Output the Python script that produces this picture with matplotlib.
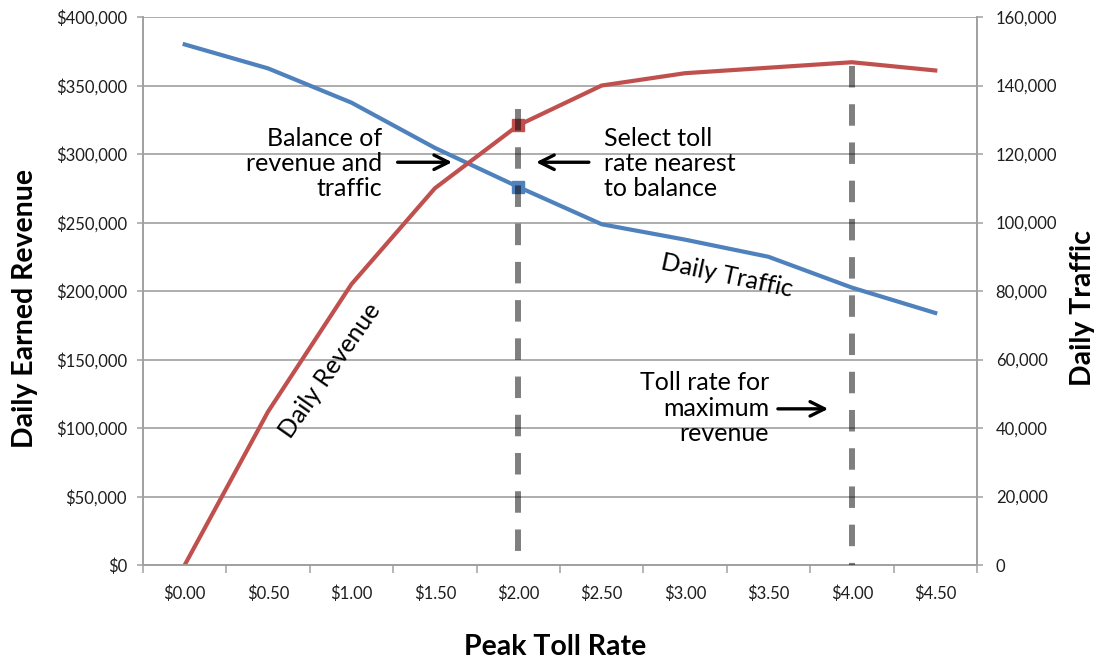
import numpy as np
import matplotlib.pyplot as plt
from matplotlib.ticker import FuncFormatter, MultipleLocator

plt.rcParams['font.family'] = ['Lato', 'DejaVu Sans']

# --- Data ---
toll_labels = ['$0.00', '$0.50', '$1.00', '$1.50', '$2.00',
               '$2.50', '$3.00', '$3.50', '$4.00', '$4.50']
revenue = [0, 112000, 205000, 275000, 321000, 350000, 359000, 363000, 367000, 361000]
traffic = [152000, 145000, 135000, 121800, 110400, 99500, 95000, 90000, 81000, 73600]

# reference lines: category index and top (revenue units)
ref_idx = [4, 8]
ref_top = [333000, 364000]
balance_idx = 4

RED = '#C0504D'
BLUE = '#4F81BD'
GRID = '#A0A0A0'
TXT = '#1E1E1E'

x = np.arange(len(toll_labels))

fig = plt.figure(figsize=(10.94, 6.6), dpi=100)
ax = fig.add_axes([0.1307, 0.1439, 0.7623, 0.8303])
ax2 = ax.twinx()
ax.set_zorder(ax2.get_zorder() + 1)
ax.patch.set_visible(False)

# traffic (right axis) + gridlines
ax2.plot(x, traffic, color=BLUE, lw=3, solid_joinstyle='round')
ax2.plot([x[balance_idx]], [traffic[balance_idx]], 's', color=BLUE, ms=8)
ax2.set_ylim(0, 160000)
ax2.yaxis.set_major_locator(MultipleLocator(20000))
ax2.yaxis.set_major_formatter(FuncFormatter(lambda v, p: f'{v:,.0f}'))
ax2.grid(axis='y', color=GRID, lw=1.2)
ax2.set_axisbelow(True)

# revenue (left axis)
ax.plot(x, revenue, color=RED, lw=3, solid_joinstyle='round')
ax.plot([x[balance_idx]], [revenue[balance_idx]], 's', color=RED, ms=8)
ax.set_ylim(0, 400000)
ax.set_xlim(-0.5, len(x) - 0.5)
ax.yaxis.set_major_locator(MultipleLocator(50000))
ax.yaxis.set_major_formatter(FuncFormatter(lambda v, p: f'${v:,.0f}'))

# dashed reference lines (drawn top-down so the pattern starts at the top)
for i, top in zip(ref_idx, ref_top):
    ax.plot([x[i], x[i]], [top, 0], color='black', alpha=0.5, lw=4.3,
            linestyle=(0, (3.6, 2.8)), solid_capstyle='butt', zorder=5)

# x ticks: labels at categories, marks at boundaries
ax.set_xticks(x)
ax.set_xticklabels(toll_labels)
ax.set_xticks(np.arange(-0.5, len(x), 1), minor=True)
ax.tick_params(axis='x', which='major', length=0, pad=15)
ax.tick_params(axis='x', which='minor', length=6, width=1.1, color=GRID)

for a in (ax, ax2):
    a.spines['top'].set_visible(False)
    for s in ('left', 'right', 'bottom'):
        a.spines[s].set_color(GRID)
        a.spines[s].set_linewidth(1.2)
    a.tick_params(axis='y', length=4.5, width=1.1, color=GRID, labelsize=12,
                  labelcolor=TXT, pad=7)
ax.tick_params(axis='x', labelsize=12, labelcolor=TXT)
ax2.tick_params(axis='y', pad=9)

# axis titles
fig.text(25 / 1094, 1 - 308 / 660, 'Daily Earned Revenue', rotation=90,
         ha='center', va='center', fontsize=20.5, fontweight='bold')
fig.text(555 / 1094, 1 - 647 / 660, 'Peak Toll Rate',
         ha='center', va='center', fontsize=20.5, fontweight='bold')
fig.text(1083 / 1094, 1 - 308 / 660, 'Daily Traffic', rotation=90,
         ha='center', va='center', fontsize=20.5, fontweight='bold')

# annotations
fs = 18
ax.text(2.366, 293000, 'Balance of\nrevenue and\ntraffic', ha='right', va='center',
        multialignment='right', fontsize=fs, linespacing=1.12, color='black')
ax.annotate('', xy=(3.24, 294000), xytext=(2.52, 294000),
            arrowprops=dict(arrowstyle='->', lw=2.4, color='black', mutation_scale=26))
ax.annotate('', xy=(4.18, 294000), xytext=(4.88, 294000),
            arrowprops=dict(arrowstyle='->', lw=2.4, color='black', mutation_scale=26))
ax.text(5.03, 293000, 'Select toll\nrate nearest\nto balance', ha='left', va='center',
        multialignment='left', fontsize=fs, linespacing=1.12, color='black')
ax.text(7.006, 114600, 'Toll rate for\nmaximum\nrevenue', ha='right', va='center',
        multialignment='right', fontsize=fs, linespacing=1.12, color='black')
ax.annotate('', xy=(7.75, 114000), xytext=(7.08, 114000),
            arrowprops=dict(arrowstyle='->', lw=2.4, color='black', mutation_scale=26))
ax.text(6.5, 211000, 'Daily Traffic', rotation=-12, ha='center', va='center',
        fontsize=fs, rotation_mode='anchor', color='black')
ax.text(1.74, 142000, 'Daily Revenue', rotation=55, ha='center', va='center',
        fontsize=fs, rotation_mode='anchor', color='black')

fig.savefig('out.png', dpi=100)
